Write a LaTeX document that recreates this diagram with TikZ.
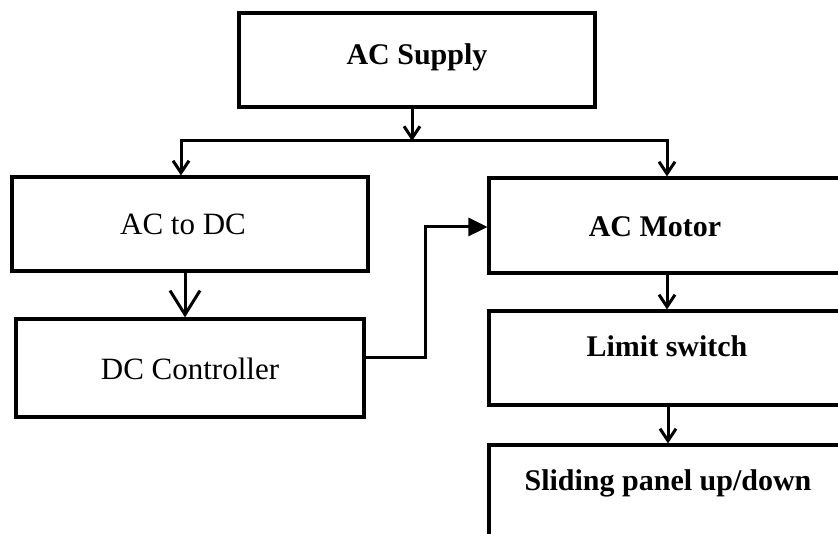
\documentclass[tikz,border=0pt]{standalone}
\usepackage{fontspec}
\setmainfont{Liberation Serif}
\usetikzlibrary{arrows.meta}
\tikzset{
  blk/.style={draw=black, line width=3.2pt, rectangle, inner sep=0pt, fill=white},
  lbl/.style={anchor=base, inner sep=0pt, font=\fontsize{30}{30}\selectfont\bfseries},
  lblr/.style={anchor=base, inner sep=0pt, font=\fontsize{31}{31}\selectfont},
  conn/.style={draw=black, line width=3pt},
  barb/.style={conn, -{Straight Barb[length=12pt,width=16pt]}},
  bigbarb/.style={conn, -{Straight Barb[length=24pt,width=30pt]}},
  tri/.style={conn, -{Triangle[length=19pt,width=18pt]}},
}
\begin{document}
\begin{tikzpicture}[x=1pt,y=-1pt]
\useasboundingbox (0,0) rectangle (838,534);
\clip (0,0) rectangle (838,534);
\fill[white] (0,0) rectangle (838,534);

% boxes
\node[blk, minimum width=356pt, minimum height=94pt] (acs) at (417,60) {};
\node[blk, minimum width=356pt, minimum height=94pt] (acdc) at (190,224) {};
\node[blk, minimum width=348pt, minimum height=98pt] (dcc) at (190,368) {};
\node[blk, minimum width=380pt, minimum height=95pt] (motor) at (679,225.5) {};
\node[blk, minimum width=380pt, minimum height=94pt] (limit) at (679,358) {};
\node[blk, minimum width=380pt, minimum height=120pt] (slide) at (679,505) {};

% texts
\node[lbl] (tacs) at (417,65) {AC Supply};
\node[lblr] (tacdc) at (183,235) {AC to DC};
\node[lblr] (tdcc) at (190,380) {DC Controller};
\node[lbl] (tmotor) at (655,237) {AC Motor};
\node[lbl] (tlimit) at (667,357) {Limit switch};
\node[lbl] (tslide) at (668,490) {Sliding panel up/down};

% connectors
\coordinate (j) at (412,141);
\coordinate (jl) at (181,141);
\coordinate (jr) at (667,141);
\draw[barb] (acs.south -| j) -- (j);
\draw[conn, line cap=rect] (jl) -- (jr);
\draw[barb] (jl) -- (jl |- acdc.north);
\draw[barb] (jr) -- (jr |- motor.north);

\coordinate (c1) at (185,300);
\draw[bigbarb] (acdc.south -| c1) -- (dcc.north -| c1);

\coordinate (k1) at (425,358);
\coordinate (k2) at (425,227);
\draw[tri] (dcc.east |- k1) -- (k1) -- (k2) -- (motor.west |- k2);

\coordinate (c2) at (667,300);
\draw[barb] (motor.south -| c2) -- (limit.north -| c2);
\coordinate (c3) at (668,420);
\draw[barb] (limit.south -| c3) -- (slide.north -| c3);
\end{tikzpicture}
\end{document}
